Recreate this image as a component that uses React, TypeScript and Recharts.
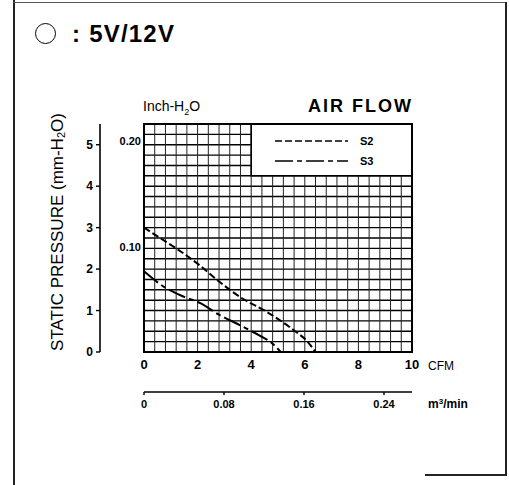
import React from 'react';
import {
  LineChart,
  Line,
  XAxis,
  YAxis,
  CartesianGrid,
  ReferenceArea,
  Legend,
} from 'recharts';

// grid divisions (CFM every 0.4, mm-H2O every 0.25)
const flowGrid = [
  0, 0.4, 0.8, 1.2, 1.6, 2, 2.4, 2.8, 3.2, 3.6, 4, 4.4, 4.8, 5.2, 5.6, 6, 6.4,
  6.8, 7.2, 7.6, 8, 8.4, 8.8, 9.2, 9.6, 10,
];
const pressureGrid = [
  0, 0.25, 0.5, 0.75, 1, 1.25, 1.5, 1.75, 2, 2.25, 2.5, 2.75, 3, 3.25, 3.5,
  3.75, 4, 4.25, 4.5, 4.75, 5, 5.25, 5.5,
];
const cfmLabels = [0, 2, 4, 6, 8, 10];
const mmTicks = [0, 1, 2, 3, 4, 5];
const inchTicks = [0.1, 0.2];
const m3Ticks = [0, 0.08, 0.16, 0.24];

// curves: CFM vs mm-H2O
const s2Flow = [0, 0.6, 1.2, 2.1, 2.8, 3.6, 4.6, 5.6, 6.1, 6.4];
const s2Pressure = [3.0, 2.75, 2.5, 2.08, 1.7, 1.32, 0.96, 0.52, 0.25, 0];
const s3Flow = [0, 0.8, 1.5, 2.1, 2.8, 3.6, 4.3, 4.8, 5.1];
const s3Pressure = [1.95, 1.55, 1.33, 1.18, 0.9, 0.64, 0.4, 0.2, 0];

const seriesNames = ['S2', 'S3'];
const seriesDash = ['7 3', '18 4 5 4'];

const s2Data = s2Flow.map((cfm, i) => ({ cfm, mm: s2Pressure[i] }));
const s3Data = s3Flow.map((cfm, i) => ({ cfm, mm: s3Pressure[i] }));

const SANS = '"Liberation Sans", Arial, Helvetica, sans-serif';
const NARROW = '"Liberation Sans Narrow", "Liberation Sans", Arial, sans-serif';

function CfmTick({ x, y, payload }: any) {
  if (!cfmLabels.includes(payload.value)) return <g />;
  return (
    <text x={x} y={y} dy="0.71em" textAnchor="middle" fontFamily={NARROW} fontWeight="bold" fontSize={13} fill="#000">
      {payload.value}
    </text>
  );
}

function CfmLabel({ viewBox }: any) {
  return (
    <text x={viewBox.x + viewBox.width + 16} y={viewBox.y + 9} dy="0.71em" fontFamily={SANS} fontSize={12} fill="#000">
      CFM
    </text>
  );
}

function M3Label({ viewBox }: any) {
  return (
    <text x={viewBox.x + viewBox.width + 16} y={viewBox.y + 7} dy="0.71em" fontFamily={SANS} fontWeight="bold" fontSize={12} fill="#000">
      m<tspan fontSize={8} dy={-4}>3</tspan>
      <tspan dy={4}>/min</tspan>
    </text>
  );
}

function PressureLabel({ viewBox }: any) {
  const cx = viewBox.x + viewBox.width / 2 - 2;
  const cy = viewBox.y + viewBox.height / 2 - 6;
  return (
    <text
      x={cx}
      y={cy}
      transform={`rotate(-90 ${cx} ${cy})`}
      textAnchor="middle"
      dominantBaseline="central"
      fontFamily={SANS}
      fontSize={17}
      fill="#000"
    >
      STATIC PRESSURE (mm-H<tspan fontSize={11} dy={4}>2</tspan>
      <tspan dy={-4}>O)</tspan>
    </text>
  );
}

function KeyContent() {
  return (
    <svg width={130} height={44}>
      {seriesNames.map((name, i) => (
        <g key={name}>
          <line x1={0} x2={73} y1={9 + i * 20} y2={9 + i * 20} stroke="#000" strokeWidth={1.6} strokeDasharray={seriesDash[i]} />
          <text x={85} y={9 + i * 20} dy="0.35em" fontFamily={NARROW} fontWeight="bold" fontSize={11} fill="#000">
            {name}
          </text>
        </g>
      ))}
    </svg>
  );
}

const tickText = { fill: '#000', fontFamily: NARROW, fontWeight: 'bold', fontSize: 11 } as const;

export default function App() {
  return (
    <div style={{ position: 'fixed', left: 0, top: 0, width: 509, height: 485, background: '#fff', overflow: 'hidden' }}>
      {/* scanned page frame */}
      <div style={{ position: 'absolute', left: 13, top: 0, width: 1.5, height: 485, background: '#222' }} />
      <div style={{ position: 'absolute', left: 13, top: 2, width: 494, height: 1, background: '#555' }} />
      <div style={{ position: 'absolute', left: 505, top: 2, width: 1.5, height: 473, background: '#222' }} />
      <div style={{ position: 'absolute', left: 425, top: 474, width: 82, height: 1.5, background: '#222' }} />

      {/* heading */}
      <div style={{ position: 'absolute', left: 35, top: 23, width: 19, height: 19, border: '1.6px solid #000', borderRadius: '50%' }} />
      <div style={{ position: 'absolute', left: 72, top: 20, fontFamily: SANS, fontWeight: 'bold', fontSize: 24, letterSpacing: 1.2, color: '#000', whiteSpace: 'nowrap' }}>
        :<span style={{ marginLeft: 8 }}>5V/12V</span>
      </div>
      <div style={{ position: 'absolute', left: 143, top: 98, fontFamily: SANS, fontSize: 14, color: '#000', whiteSpace: 'nowrap' }}>
        Inch-H<sub style={{ fontSize: 9 }}>2</sub>O
      </div>
      <div style={{ position: 'absolute', right: 509 - 413, top: 96, fontFamily: SANS, fontWeight: 'bold', fontSize: 18, letterSpacing: 2, color: '#000', whiteSpace: 'nowrap' }}>
        AIR FLOW
      </div>

      <LineChart width={509} height={485} margin={{ top: 124, right: 97, bottom: 63, left: 18 }}>
        <CartesianGrid yAxisId="grid" vertical={false} stroke="#000" strokeWidth={1.4} fill="none" />
        <CartesianGrid yAxisId="grid" horizontal={false} stroke="#222" strokeWidth={1} fill="none" />
        <XAxis
          dataKey="cfm"
          type="number"
          domain={[0, 10]}
          allowDataOverflow
          ticks={flowGrid}
          interval={0}
          tickLine={false}
          axisLine={false}
          height={40}
          tick={<CfmTick />}
          label={<CfmLabel />}
        />
        <XAxis
          xAxisId="m3"
          dataKey="m3"
          type="number"
          domain={[0, 0.268]}
          allowDataOverflow
          ticks={m3Ticks}
          interval={0}
          height={30}
          tickSize={3}
          tickMargin={5}
          axisLine={{ stroke: '#000', strokeWidth: 1.6 }}
          tickLine={{ stroke: '#000', strokeWidth: 1.4 }}
          tick={tickText}
          tickFormatter={(v: number) => (v === 0 ? '0' : v.toFixed(2))}
          label={<M3Label />}
        />
        <YAxis
          yAxisId="inch"
          type="number"
          domain={[0, 5.5 / 25.4]}
          allowDataOverflow
          ticks={inchTicks}
          interval={0}
          width={44}
          tickSize={0}
          tickMargin={3}
          tickLine={false}
          axisLine={false}
          tick={tickText}
          tickFormatter={(v: number) => v.toFixed(2)}
        />
        <YAxis
          yAxisId="mm"
          type="number"
          domain={[0, 5.5]}
          allowDataOverflow
          ticks={mmTicks}
          interval={0}
          width={82}
          tickSize={4}
          tickMargin={3}
          axisLine={{ stroke: '#000', strokeWidth: 1.6 }}
          tickLine={{ stroke: '#000', strokeWidth: 1.4 }}
          tick={{ ...tickText, fontSize: 12 }}
          label={<PressureLabel />}
        />
        <YAxis
          yAxisId="grid"
          orientation="right"
          hide
          width={0}
          type="number"
          domain={[0, 5.5]}
          allowDataOverflow
          ticks={pressureGrid}
          interval={0}
        />

        <ReferenceArea yAxisId="mm" x1={4} x2={10} y1={4.25} y2={5.5} fill="#fff" fillOpacity={1} stroke="#000" strokeWidth={1.6} />
        <ReferenceArea yAxisId="mm" x1={0} x2={10} y1={0} y2={5.5} fill="none" stroke="#000" strokeWidth={2} />

        <Line
          yAxisId="mm"
          data={s2Data}
          dataKey="mm"
          name={seriesNames[0]}
          type="monotone"
          stroke="#000"
          strokeWidth={2}
          strokeDasharray={seriesDash[0]}
          dot={false}
          isAnimationActive={false}
        />
        <Line
          yAxisId="mm"
          data={s3Data}
          dataKey="mm"
          name={seriesNames[1]}
          type="monotone"
          stroke="#000"
          strokeWidth={2}
          strokeDasharray={seriesDash[1]}
          dot={false}
          isAnimationActive={false}
        />
        <Legend
          layout="vertical"
          align="center"
          verticalAlign="middle"
          content={<KeyContent />}
          wrapperStyle={{ left: 275, top: 132, width: 130, height: 44 }}
        />
      </LineChart>
    </div>
  );
}
